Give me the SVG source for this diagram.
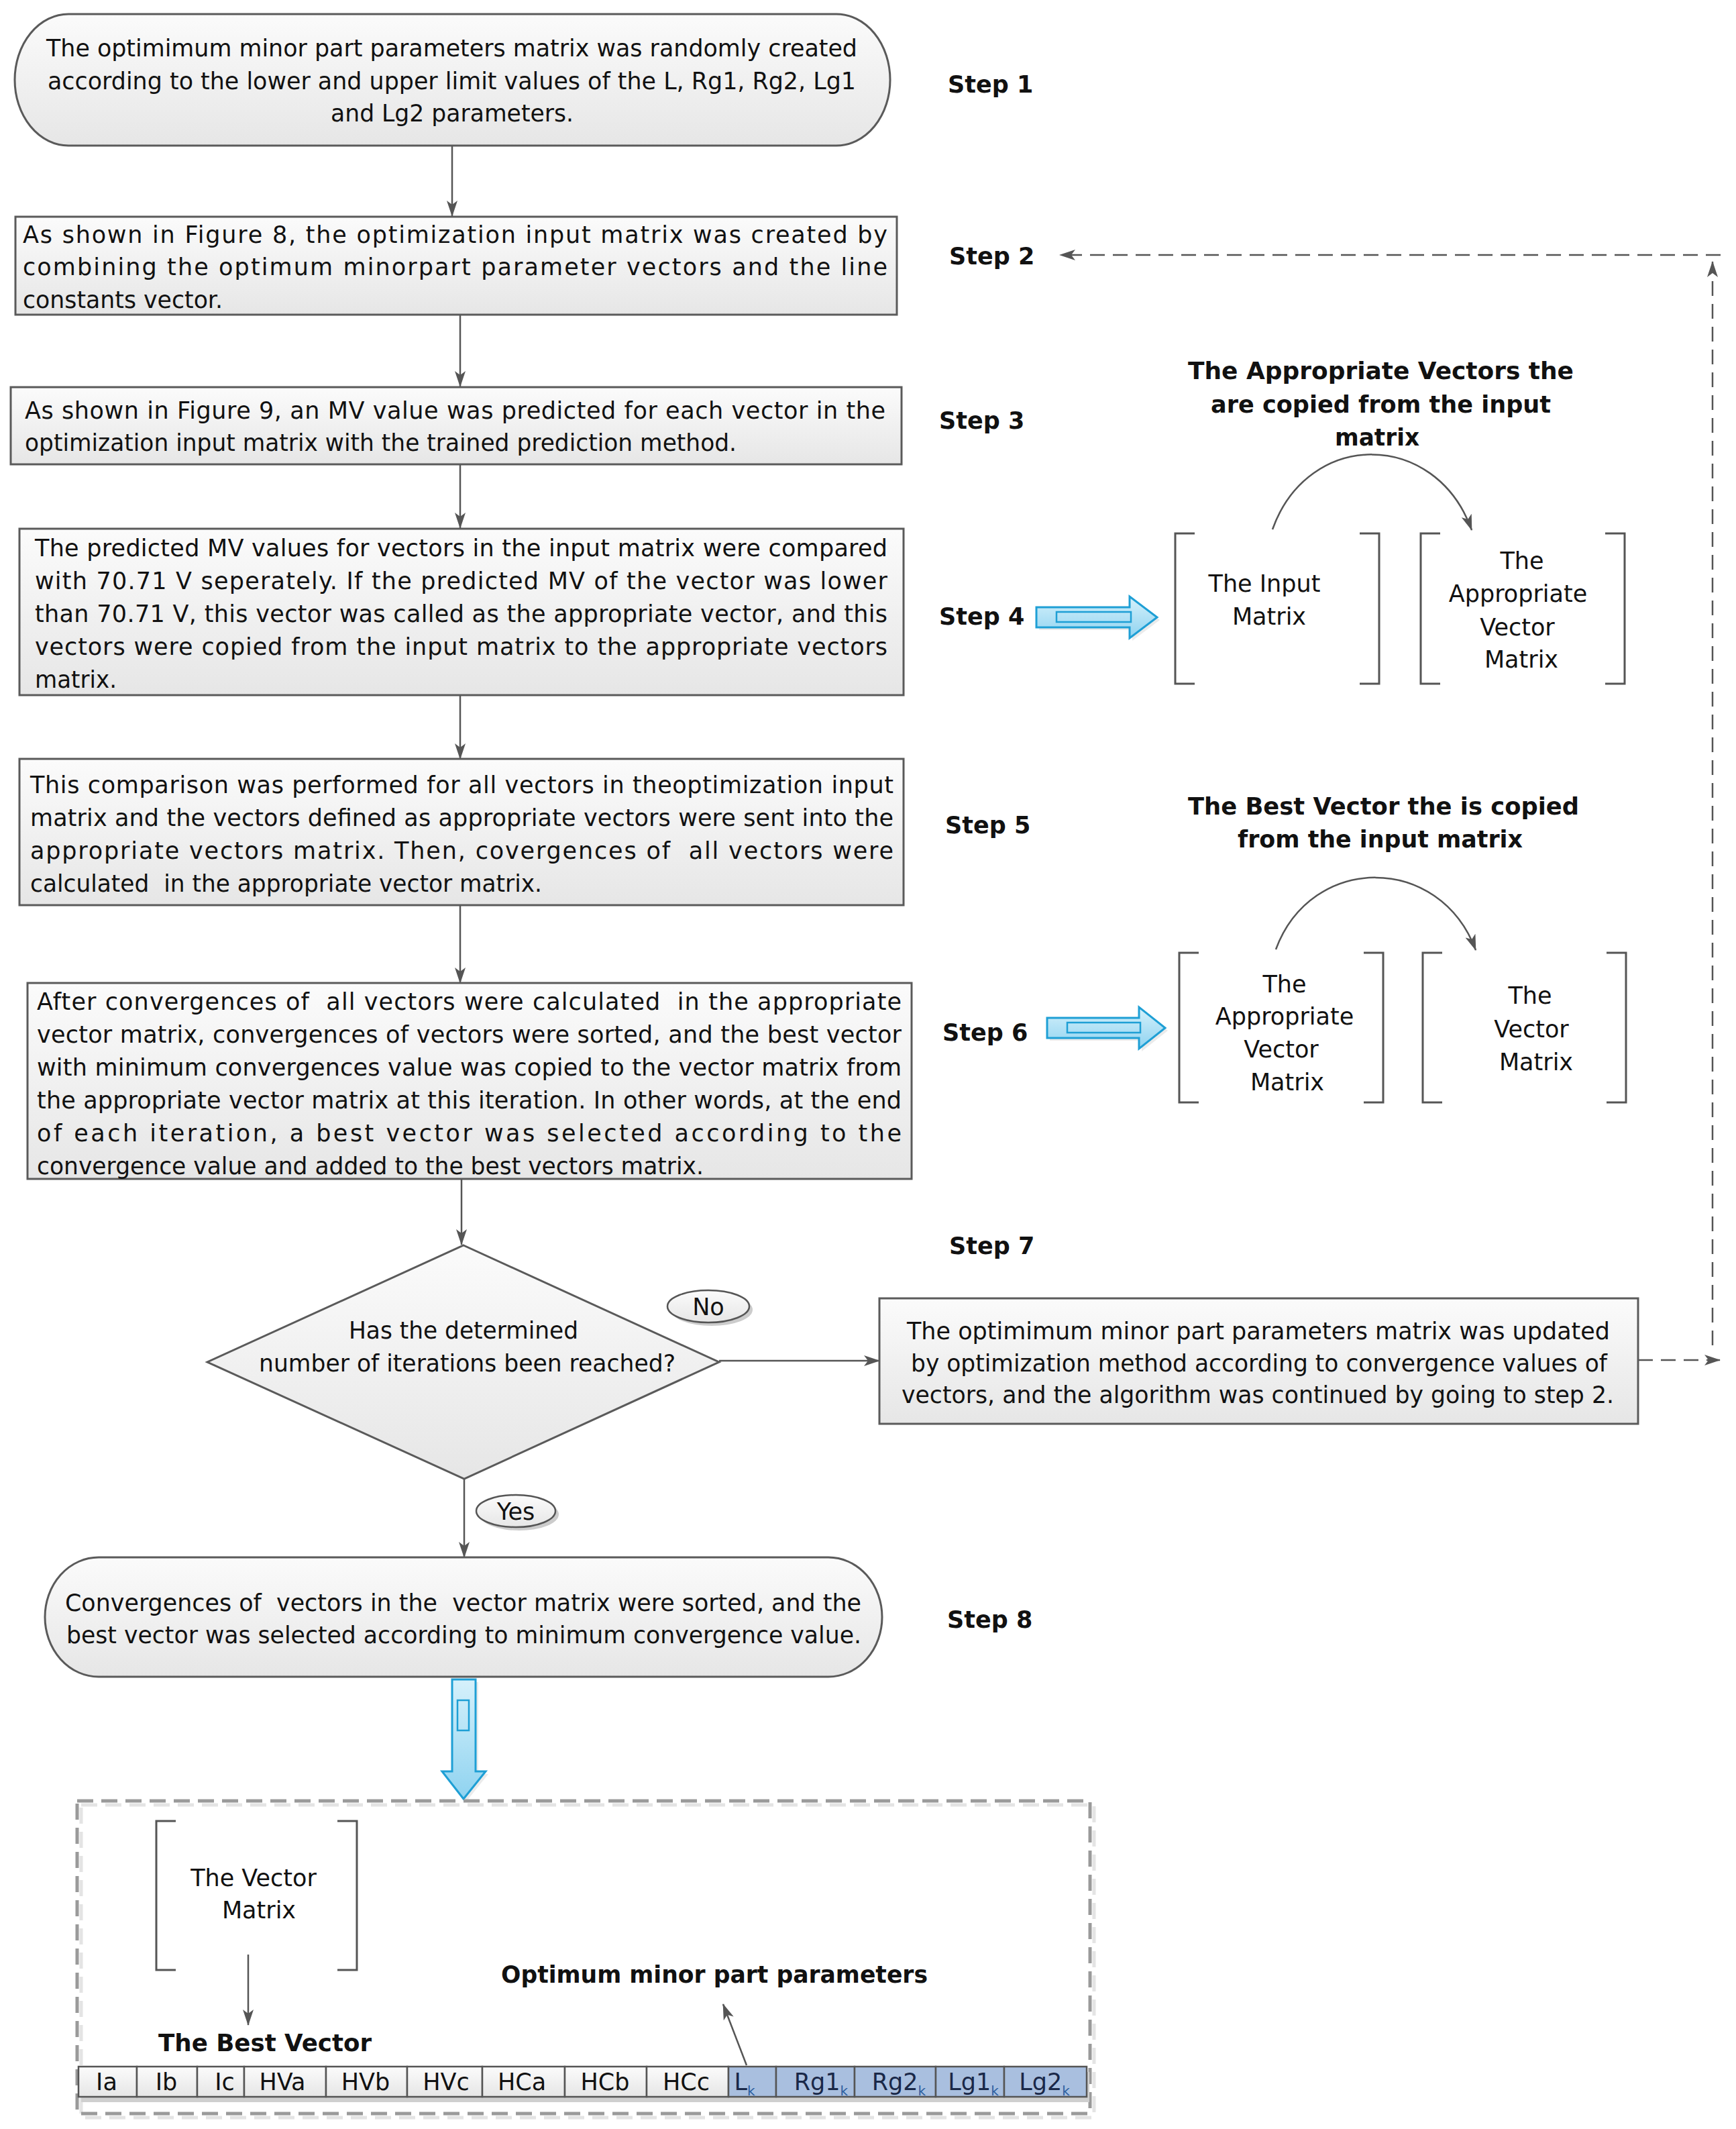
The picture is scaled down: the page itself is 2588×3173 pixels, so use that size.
<svg xmlns="http://www.w3.org/2000/svg" width="2588" height="3173" viewBox="0 0 2588 3173">
<style>
.t{font-family:"DejaVu Sans",Verdana,sans-serif;font-size:35px;fill:#111}
.b{font-family:"DejaVu Sans",Verdana,sans-serif;font-size:35px;font-weight:bold;fill:#111}
.box{fill:url(#g);stroke:#5a5a5a;stroke-width:3}
.br{fill:none;stroke:#555;stroke-width:3}
.c{fill:none;stroke:#555;stroke-width:2.5}
.d{fill:none;stroke:#555;stroke-width:2.5;stroke-dasharray:22 12}
.ba{fill:url(#bl);stroke:#1e9fd5;stroke-width:3}
.bi{fill:none;stroke:#1e9fd5;stroke-width:2.5}
.cell{fill:url(#g);stroke:#555;stroke-width:2.5}
.cellb{fill:#a9bfdf;stroke:#555;stroke-width:2.5}
.tk{font-family:"DejaVu Sans",Verdana,sans-serif;font-size:35px;fill:#1a2848}
</style>
<defs>
<linearGradient id="g" x1="0" y1="0" x2="0" y2="1"><stop offset="0" stop-color="#fbfbfb"/><stop offset="1" stop-color="#e6e6e6"/></linearGradient>
<linearGradient id="bl" x1="0" y1="0" x2="0" y2="1"><stop offset="0" stop-color="#d6f1fb"/><stop offset="1" stop-color="#8fd3f0"/></linearGradient>
<marker id="ah" viewBox="0 0 24 16" refX="23" refY="8" markerWidth="24" markerHeight="16" markerUnits="userSpaceOnUse" orient="auto"><path d="M0,0 L24,8 L0,16 L6,8 z" fill="#555"/></marker>
</defs>
<rect width="2588" height="3173" fill="#fff"/>

<g id="connectors">
<path class="c" d="M674,218 V322" marker-end="url(#ah)"/>
<path class="c" d="M686,469 V576" marker-end="url(#ah)"/>
<path class="c" d="M686,692 V787" marker-end="url(#ah)"/>
<path class="c" d="M686,1036 V1131" marker-end="url(#ah)"/>
<path class="c" d="M686,1350 V1465" marker-end="url(#ah)"/>
<path class="c" d="M688,1758 V1855" marker-end="url(#ah)"/>
<path class="c" d="M1072,2028 H1311" marker-end="url(#ah)"/>
<path class="c" d="M692,2204 V2321" marker-end="url(#ah)"/>
<path class="d" d="M2442,2027 H2564" marker-end="url(#ah)"/>
<path class="d" d="M2553,2005 V390" marker-end="url(#ah)"/>
<path class="d" d="M2565,380 H1580" marker-end="url(#ah)"/>
<path class="c" d="M1897,789 C1950,640 2140,640 2194,790" marker-end="url(#ah)"/>
<path class="c" d="M1902,1415 C1955,1272 2146,1272 2200,1416" marker-end="url(#ah)"/>
<path class="c" d="M370,2913 V3018" marker-end="url(#ah)"/>
<path class="c" d="M1113,3078 L1078,2987" marker-end="url(#ah)"/>
<g id="blue1">
<polygon points="1549,909 1688,909 1688,893 1729,924 1688,955 1688,939 1549,939" fill="#ddd" opacity="0.6"/>
<polygon class="ba" points="1545,905 1684,905 1684,889 1725,920 1684,951 1684,935 1545,935"/>
<rect class="bi" x="1575" y="912" width="111" height="15"/>
</g>
<g id="blue2">
<polygon points="1565,1521 1702,1521 1702,1505 1741,1536 1702,1567 1702,1551 1565,1551" fill="#ddd" opacity="0.6"/>
<polygon class="ba" points="1561,1517 1698,1517 1698,1501 1737,1532 1698,1563 1698,1547 1561,1547"/>
<rect class="bi" x="1591" y="1524" width="109" height="15"/>
</g>
<g id="blue3">
<polygon points="678,2507 713,2507 713,2644 728,2644 695,2685 663,2644 678,2644" fill="#ddd" opacity="0.6"/>
<polygon class="ba" points="674,2503 709,2503 709,2640 724,2640 691,2681 659,2640 674,2640"/>
<rect class="bi" x="682" y="2534" width="17" height="45"/>
</g>
</g>

<g id="step1">
<rect class="box" x="22" y="21" width="1305" height="196" rx="80" ry="98"/>
<text class="t" x="69" y="84" textLength="1209" lengthAdjust="spacingAndGlyphs">The optimimum minor part parameters matrix was randomly created</text>
<text class="t" x="71" y="133" textLength="1205" lengthAdjust="spacingAndGlyphs">according to the lower and upper limit values of the L, Rg1, Rg2, Lg1</text>
<text class="t" x="493" y="181" textLength="362" lengthAdjust="spacingAndGlyphs">and Lg2 parameters.</text>
</g>

<g id="step2">
<rect class="box" x="23" y="323" width="1314" height="146"/>
<text class="t" x="34" y="362" textLength="1289" lengthAdjust="spacing">As shown in Figure 8, the optimization input matrix was created by</text>
<text class="t" x="34" y="410" textLength="1289" lengthAdjust="spacing">combining the optimum minorpart parameter vectors and the line</text>
<text class="t" x="34" y="459" textLength="298" lengthAdjust="spacingAndGlyphs">constants vector.</text>
</g>

<g id="step3">
<rect class="box" x="16" y="577" width="1328" height="115"/>
<text class="t" x="37" y="624" textLength="1283" lengthAdjust="spacing">As shown in Figure 9, an MV value was predicted for each vector in the</text>
<text class="t" x="37" y="672" textLength="1061" lengthAdjust="spacingAndGlyphs">optimization input matrix with the trained prediction method.</text>
</g>

<g id="step4">
<rect class="box" x="29" y="788" width="1318" height="248"/>
<text class="t" x="52" y="829" textLength="1271" lengthAdjust="spacing">The predicted MV values for vectors in the input matrix were compared</text>
<text class="t" x="52" y="878" textLength="1271" lengthAdjust="spacing">with 70.71 V seperately. If the predicted MV of the vector was lower</text>
<text class="t" x="52" y="927" textLength="1271" lengthAdjust="spacing">than 70.71 V, this vector was called as the appropriate vector, and this</text>
<text class="t" x="52" y="976" textLength="1271" lengthAdjust="spacing">vectors were copied from the input matrix to the appropriate vectors</text>
<text class="t" x="52" y="1025" textLength="122" lengthAdjust="spacingAndGlyphs">matrix.</text>
</g>

<g id="step5">
<rect class="box" x="29" y="1131" width="1318" height="218"/>
<text class="t" x="45" y="1182" textLength="1287" lengthAdjust="spacing">This comparison was performed for all vectors in theoptimization input</text>
<text class="t" x="45" y="1231" textLength="1287" lengthAdjust="spacing">matrix and the vectors defined as appropriate vectors were sent into the</text>
<text class="t" x="45" y="1280" textLength="1287" lengthAdjust="spacing" xml:space="preserve">appropriate vectors matrix. Then, covergences of  all vectors were</text>
<text class="t" x="45" y="1329" textLength="763" lengthAdjust="spacingAndGlyphs" xml:space="preserve">calculated  in the appropriate vector matrix.</text>
</g>

<g id="step6">
<rect class="box" x="41" y="1465" width="1318" height="292"/>
<text class="t" x="55" y="1505" textLength="1289" lengthAdjust="spacing" xml:space="preserve">After convergences of  all vectors were calculated  in the appropriate</text>
<text class="t" x="55" y="1554" textLength="1289" lengthAdjust="spacing">vector matrix, convergences of vectors were sorted, and the best vector</text>
<text class="t" x="55" y="1603" textLength="1289" lengthAdjust="spacing">with minimum convergences value was copied to the vector matrix from</text>
<text class="t" x="55" y="1652" textLength="1289" lengthAdjust="spacing">the appropriate vector matrix at this iteration. In other words, at the end</text>
<text class="t" x="55" y="1701" textLength="1289" lengthAdjust="spacing">of each iteration, a best vector was selected according to the</text>
<text class="t" x="55" y="1750" textLength="994" lengthAdjust="spacingAndGlyphs">convergence value and added to the best vectors matrix.</text>
</g>

<g id="decision">
<polygon class="box" points="691,1856 1072,2030 692,2204 309,2030"/>
<text class="t" x="520" y="1995" textLength="342" lengthAdjust="spacingAndGlyphs">Has the determined</text>
<text class="t" x="386" y="2044" textLength="621" lengthAdjust="spacingAndGlyphs">number of iterations been reached?</text>
</g>

<g id="label-no">
<ellipse cx="1061" cy="1952" rx="61" ry="24" fill="#ccc"/>
<ellipse cx="1056" cy="1947" rx="61" ry="24" fill="url(#g)" stroke="#555" stroke-width="2.5"/>
<text class="t" x="1056" y="1960" text-anchor="middle">No</text>
</g>

<g id="label-yes">
<ellipse cx="774" cy="2257" rx="59" ry="24" fill="#ccc"/>
<ellipse cx="769" cy="2252" rx="59" ry="24" fill="url(#g)" stroke="#555" stroke-width="2.5"/>
<text class="t" x="769" y="2265" text-anchor="middle">Yes</text>
</g>

<g id="step7box">
<rect class="box" x="1311" y="1935" width="1131" height="187"/>
<text class="t" x="1352" y="1996" textLength="1048" lengthAdjust="spacingAndGlyphs">The optimimum minor part parameters matrix was updated</text>
<text class="t" x="1358" y="2044" textLength="1038" lengthAdjust="spacingAndGlyphs">by optimization method according to convergence values of</text>
<text class="t" x="1344" y="2091" textLength="1062" lengthAdjust="spacingAndGlyphs">vectors, and the algorithm was continued by going to step 2.</text>
</g>

<g id="step8">
<rect class="box" x="67" y="2321" width="1248" height="178" rx="80" ry="89"/>
<text class="t" x="97" y="2401" textLength="1187" lengthAdjust="spacingAndGlyphs" xml:space="preserve">Convergences of  vectors in the  vector matrix were sorted, and the</text>
<text class="t" x="99" y="2449" textLength="1185" lengthAdjust="spacingAndGlyphs">best vector was selected according to minimum convergence value.</text>
</g>

<g id="step-labels">
<text class="b" x="1413" y="138">Step 1</text>
<text class="b" x="1415" y="394">Step 2</text>
<text class="b" x="1400" y="639">Step 3</text>
<text class="b" x="1400" y="931">Step 4</text>
<text class="b" x="1409" y="1242">Step 5</text>
<text class="b" x="1405" y="1551">Step 6</text>
<text class="b" x="1415" y="1869">Step 7</text>
<text class="b" x="1412" y="2426">Step 8</text>
</g>

<g id="copy-appropriate">
<text class="b" x="1771" y="565" textLength="575" lengthAdjust="spacingAndGlyphs">The Appropriate Vectors the</text>
<text class="b" x="1805" y="615" textLength="507" lengthAdjust="spacingAndGlyphs">are copied from the input</text>
<text class="b" x="1990" y="664" textLength="126" lengthAdjust="spacingAndGlyphs">matrix</text>
<path class="br" d="M1781,795 H1752 V1019 H1781"/>
<path class="br" d="M2027,795 H2056 V1019 H2027"/>
<text class="t" x="1885" y="882" text-anchor="middle">The Input</text>
<text class="t" x="1892" y="931" text-anchor="middle">Matrix</text>
<path class="br" d="M2147,795 H2118 V1019 H2147"/>
<path class="br" d="M2393,795 H2422 V1019 H2393"/>
<text class="t" x="2269" y="848" text-anchor="middle">The</text>
<text class="t" x="2263" y="897" text-anchor="middle">Appropriate</text>
<text class="t" x="2262" y="947" text-anchor="middle">Vector</text>
<text class="t" x="2268" y="995" text-anchor="middle">Matrix</text>
</g>

<g id="copy-best">
<text class="b" x="1771" y="1214" textLength="583" lengthAdjust="spacingAndGlyphs">The Best Vector the is copied</text>
<text class="b" x="1845" y="1263" textLength="425" lengthAdjust="spacingAndGlyphs">from the input matrix</text>
<path class="br" d="M1787,1420 H1758 V1643 H1787"/>
<path class="br" d="M2033,1420 H2062 V1643 H2033"/>
<text class="t" x="1915" y="1479" text-anchor="middle">The</text>
<text class="t" x="1915" y="1527" text-anchor="middle">Appropriate</text>
<text class="t" x="1910" y="1576" text-anchor="middle">Vector</text>
<text class="t" x="1919" y="1625" text-anchor="middle">Matrix</text>
<path class="br" d="M2150,1420 H2121 V1643 H2150"/>
<path class="br" d="M2395,1420 H2424 V1643 H2395"/>
<text class="t" x="2281" y="1496" text-anchor="middle">The</text>
<text class="t" x="2283" y="1546" text-anchor="middle">Vector</text>
<text class="t" x="2290" y="1595" text-anchor="middle">Matrix</text>
</g>

<g id="result">
<rect x="121" y="2690" width="1510" height="466" fill="none" stroke="#e4e4e4" stroke-width="5" stroke-dasharray="24 12"/>
<rect x="115" y="2684" width="1510" height="466" fill="none" stroke="#9a9a9a" stroke-width="5" stroke-dasharray="24 12"/>
<path class="br" d="M262,2714 H233 V2936 H262"/>
<path class="br" d="M503,2714 H532 V2936 H503"/>
<text class="t" x="378" y="2811" text-anchor="middle">The Vector</text>
<text class="t" x="386" y="2859" text-anchor="middle">Matrix</text>
<text class="b" x="236" y="3057" textLength="318" lengthAdjust="spacingAndGlyphs">The Best Vector</text>
<text class="b" x="747" y="2955" textLength="636" lengthAdjust="spacingAndGlyphs">Optimum minor part parameters</text>
</g>

<g id="best-vector-table">
<rect x="121" y="3088" width="1503" height="45" fill="#cfcfcf"/>
<rect class="cell" x="117" y="3080" width="87" height="45"/>
<rect class="cell" x="204" y="3080" width="90" height="45"/>
<rect class="cell" x="294" y="3080" width="70" height="45"/>
<rect class="cell" x="364" y="3080" width="122" height="45"/>
<rect class="cell" x="486" y="3080" width="121" height="45"/>
<rect class="cell" x="607" y="3080" width="112" height="45"/>
<rect class="cell" x="719" y="3080" width="123" height="45"/>
<rect class="cell" x="842" y="3080" width="122" height="45"/>
<rect class="cell" x="964" y="3080" width="122" height="45"/>
<rect class="cellb" x="1086" y="3080" width="71" height="45"/>
<rect class="cellb" x="1157" y="3080" width="117" height="45"/>
<rect class="cellb" x="1274" y="3080" width="121" height="45"/>
<rect class="cellb" x="1395" y="3080" width="102" height="45"/>
<rect class="cellb" x="1497" y="3080" width="123" height="45"/>
<text class="t" x="159" y="3115" text-anchor="middle">Ia</text>
<text class="t" x="248" y="3115" text-anchor="middle">Ib</text>
<text class="t" x="335" y="3115" text-anchor="middle">Ic</text>
<text class="t" x="421" y="3115" text-anchor="middle">HVa</text>
<text class="t" x="545" y="3115" text-anchor="middle">HVb</text>
<text class="t" x="665" y="3115" text-anchor="middle">HVc</text>
<text class="t" x="778" y="3115" text-anchor="middle">HCa</text>
<text class="t" x="902" y="3115" text-anchor="middle">HCb</text>
<text class="t" x="1023" y="3115" text-anchor="middle">HCc</text>
<text class="tk" x="1110" y="3115" text-anchor="middle">L<tspan font-size="20" dy="8" fill="#2e5fa0">k</tspan></text>
<text class="tk" x="1224" y="3115" text-anchor="middle">Rg1<tspan font-size="20" dy="8" fill="#2e5fa0">k</tspan></text>
<text class="tk" x="1340" y="3115" text-anchor="middle">Rg2<tspan font-size="20" dy="8" fill="#2e5fa0">k</tspan></text>
<text class="tk" x="1451" y="3115" text-anchor="middle">Lg1<tspan font-size="20" dy="8" fill="#2e5fa0">k</tspan></text>
<text class="tk" x="1557" y="3115" text-anchor="middle">Lg2<tspan font-size="20" dy="8" fill="#2e5fa0">k</tspan></text>
</g>
</svg>
